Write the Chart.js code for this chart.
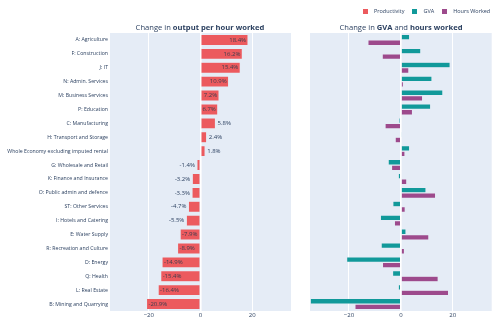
<!DOCTYPE html>
<html>
<head>
<meta charset="utf-8">
<script src="https://cdn.jsdelivr.net/npm/chart.js@4.4.1/dist/chart.umd.min.js"></script>
<style>
  body { margin: 0; background: #fff; font-family: "Open Sans", sans-serif; color: #2a3f5f; }
  #wrap { position: relative; width: 500px; height: 333px; overflow: hidden; }
  canvas { position: absolute; top: 0; }
  .title { position: absolute; top: 22px; font-size: 7.6px; white-space: nowrap; transform: translateX(-50%); }
  .title b { font-weight: 700; }
  #legend { position: absolute; top: 7px; left: 363px; display: flex; font-size: 5.5px; white-space: nowrap; }
  #legend span.item { display: flex; align-items: center; margin-right: 8px; }
  #legend i { display: inline-block; width: 5px; height: 5px; margin-right: 6px; }
</style>
</head>
<body>
<div id="wrap">
  <canvas id="prodChart" width="300" height="333" style="left:0"></canvas>
  <canvas id="splitChart" width="200" height="333" style="left:300px"></canvas>
  <div class="title" style="left:200px">Change in <b>output per hour worked</b></div>
  <div class="title" style="left:401px">Change in <b>GVA</b> and <b>hours worked</b></div>
  <div id="legend"></div>
</div>
<script>
const categories = [
  'A: Agriculture', 'F: Construction', 'J: IT', 'N: Admin. Services', 'M: Business Services',
  'P: Education', 'C: Manufacturing', 'H: Transport and Storage', 'Whole Economy excluding imputed rental',
  'G: Wholesale and Retail', 'K: Finance and Insurance', 'O: Public admin and defence', 'ST: Other Services',
  'I: Hotels and Catering', 'E: Water Supply', 'R: Recreation and Culture', 'D: Energy', 'Q: Health',
  'L: Real Estate', 'B: Mining and Quarrying'
];
const productivity = [18.4, 16.2, 15.4, 10.9, 7.2, 6.7, 5.8, 2.4, 1.8, -1.4, -3.2, -3.3, -4.7, -5.5, -7.9, -8.9, -14.9, -15.4, -16.4, -20.9];
const gva = [3.4, 7.7, 19.0, 12.0, 16.2, 11.5, -0.7, 0.2, 3.4, -4.9, -1.0, 9.7, -3.1, -7.9, 2.0, -7.6, -20.9, -3.2, -1.0, -34.9];
const hoursWorked = [-12.7, -7.2, 3.1, 1.0, 8.4, 4.5, -6.1, -2.2, 1.6, -3.6, 2.3, 13.4, 1.7, -2.5, 10.8, 1.4, -7.1, 14.4, 18.4, -17.7];
const xTicks = [-20, 0, 20];

const seriesNames = ['Productivity', 'GVA', 'Hours Worked'];
const seriesColors = ['#EC5A5E', '#11999A', '#9D4A8C'];

const fontFamily = '"Open Sans", sans-serif';
const textColor = '#2a3f5f';

// legend
const legend = document.getElementById('legend');
seriesNames.forEach((name, i) => {
  legend.innerHTML += `<span class="item"><i style="background:${seriesColors[i]}"></i>${name}</span>`;
});

// light blue plot background
const plotBg = {
  id: 'plotBg',
  beforeDraw(chart) {
    const { ctx, chartArea: a } = chart;
    ctx.save();
    ctx.fillStyle = '#E5ECF6';
    ctx.fillRect(a.left, a.top, a.right - a.left, a.bottom - a.top);
    ctx.restore();
  }
};

// percentage text at the end of each productivity bar
const barLabels = {
  id: 'barLabels',
  afterDatasetsDraw(chart) {
    const ctx = chart.ctx;
    ctx.save();
    ctx.font = '6px ' + fontFamily;
    ctx.textBaseline = 'middle';
    chart.getDatasetMeta(0).data.forEach((bar, i) => {
      const v = productivity[i];
      const text = v.toFixed(1) + '%';
      const w = ctx.measureText(text).width;
      const len = Math.abs(bar.x - bar.base);
      const dir = v >= 0 ? 1 : -1;
      if (w + 3 < len) {
        ctx.textAlign = v >= 0 ? 'right' : 'left';
        ctx.fillStyle = '#3d3d4d';
        ctx.fillText(text, bar.x - dir * 2, bar.y);
      } else {
        ctx.textAlign = v >= 0 ? 'left' : 'right';
        ctx.fillStyle = textColor;
        ctx.fillText(text, bar.x + dir * 2, bar.y);
      }
    });
    ctx.restore();
  }
};

function xScale() {
  return {
    min: -35,
    max: 35,
    afterBuildTicks: s => { s.ticks = xTicks.map(v => ({ value: v })); },
    afterFit: s => { s.height = 22; },
    grid: {
      color: '#ffffff',
      lineWidth: c => (c.tick && c.tick.value === 0 ? 1.6 : 1),
      drawTicks: false
    },
    border: { display: false },
    ticks: {
      padding: 1,
      color: textColor,
      font: { family: fontFamily, size: 6 },
      callback: v => String(v).replace('-', '\u2212')
    }
  };
}

const barBorder = 'rgba(229,236,246,0.9)';

new Chart(document.getElementById('prodChart'), {
  type: 'bar',
  data: {
    labels: categories,
    datasets: [{
      label: seriesNames[0],
      data: productivity,
      backgroundColor: seriesColors[0],
      borderColor: barBorder,
      borderWidth: 0.6,
      categoryPercentage: 0.8,
      barPercentage: 1
    }]
  },
  options: {
    indexAxis: 'y',
    responsive: false,
    animation: false,
    devicePixelRatio: 1,
    layout: { padding: { top: 33, right: 9, left: 0, bottom: 0 } },
    plugins: { legend: { display: false }, tooltip: { enabled: false } },
    scales: {
      x: xScale(),
      y: {
        afterFit: s => { s.width = 110; },
        grid: { display: false, drawTicks: false },
        border: { display: false },
        ticks: {
          padding: 2,
          autoSkip: false,
          color: textColor,
          font: { family: fontFamily, size: 5.2 }
        }
      }
    }
  },
  plugins: [plotBg, barLabels]
});

new Chart(document.getElementById('splitChart'), {
  type: 'bar',
  data: {
    labels: categories,
    datasets: [{
      label: seriesNames[1],
      data: gva,
      backgroundColor: seriesColors[1],
      borderColor: barBorder,
      borderWidth: 0.6,
      categoryPercentage: 0.8,
      barPercentage: 1
    }, {
      label: seriesNames[2],
      data: hoursWorked,
      backgroundColor: seriesColors[2],
      borderColor: barBorder,
      borderWidth: 0.6,
      categoryPercentage: 0.8,
      barPercentage: 1
    }]
  },
  options: {
    indexAxis: 'y',
    responsive: false,
    animation: false,
    devicePixelRatio: 1,
    layout: { padding: { top: 33, right: 8.3, left: 10, bottom: 0 } },
    plugins: { legend: { display: false }, tooltip: { enabled: false } },
    scales: {
      x: xScale(),
      y: { display: false }
    }
  },
  plugins: [plotBg]
});
</script>
</body>
</html>
